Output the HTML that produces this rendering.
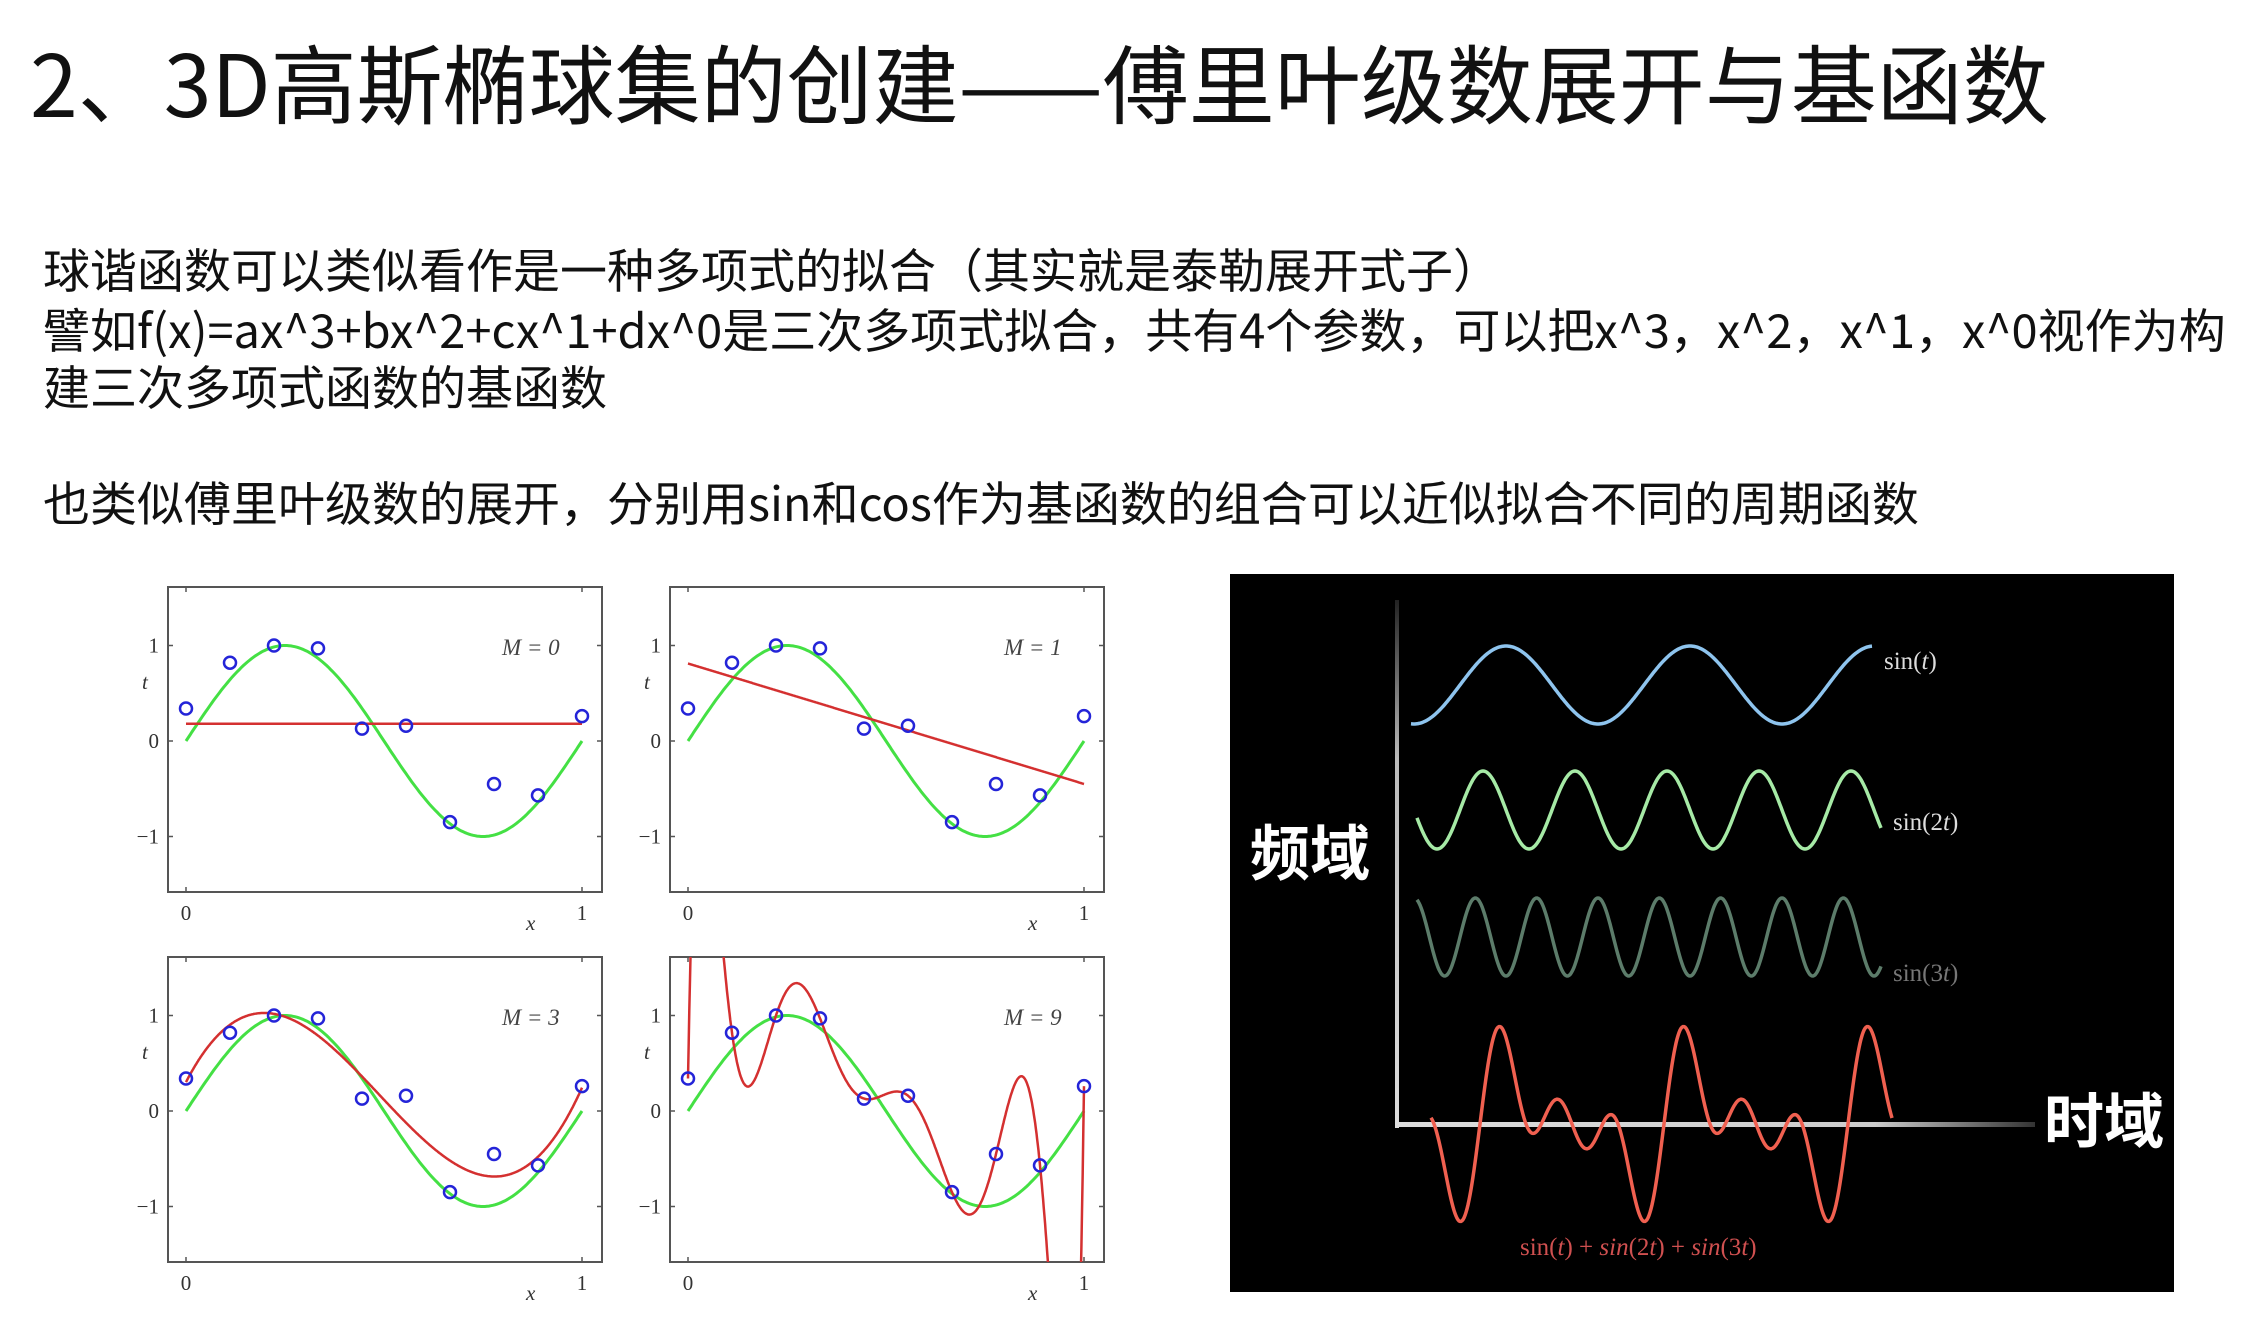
<!DOCTYPE html>
<html><head><meta charset="utf-8">
<style>
html,body{margin:0;padding:0;background:#fff;}
body{width:2246px;height:1329px;position:relative;overflow:hidden;font-family:"Liberation Sans","Noto Sans CJK SC",sans-serif;color:#111;}
.t{position:absolute;white-space:nowrap;left:43px;font-size:47px;line-height:60px;font-family:"Noto Sans CJK SC","Liberation Sans",sans-serif;}
svg{position:absolute;left:0;top:0;}
</style></head><body>
<div style="position:absolute;left:30px;top:30px;font-size:86px;line-height:100px;white-space:nowrap;font-family:'Noto Sans CJK SC',sans-serif;">2、3D高斯椭球集的创建——傅里叶级数展开与基函数</div>
<div class="t" style="top:238px">球谐函数可以类似看作是一种多项式的拟合（其实就是泰勒展开式子）</div>
<div class="t" style="top:298px">譬如f(x)=ax^3+bx^2+cx^1+dx^0是三次多项式拟合，共有4个参数，可以把x^3，x^2，x^1，x^0视作为构</div>
<div class="t" style="top:355px">建三次多项式函数的基函数</div>
<div class="t" style="top:471px">也类似傅里叶级数的展开，分别用sin和cos作为基函数的组合可以近似拟合不同的周期函数</div>

<svg id="s" width="2246" height="1329"></svg>

<script>
// ---- polynomial fit data ----
const dataX = [0, 1/9, 2/9, 3/9, 4/9, 5/9, 6/9, 7/9, 8/9, 1];
const dataY = [0.34, 0.82, 1.0, 0.97, 0.13, 0.16, -0.85, -0.45, -0.57, 0.26];
const orders = [0, 1, 3, 9];
const yTicks = [1, 0, -1];
const xTicks = [0, 1];
// ---- wave data ----
const waveNames = ["sin(t)", "sin(2t)", "sin(3t)"];
const waveFreqs = [1, 2, 3];
const sumFreqs = [1, 2, 3];

const NS = "http://www.w3.org/2000/svg";
const svg = document.getElementById('s');
function mk(tag, attrs, parent){const e=document.createElementNS(NS,tag);for(const k in attrs)e.setAttribute(k,attrs[k]);(parent||svg).appendChild(e);return e;}

function solve(A,b){const n=b.length;A=A.map(r=>r.slice());b=b.slice();
 for(let i=0;i<n;i++){let p=i;for(let j=i+1;j<n;j++)if(Math.abs(A[j][i])>Math.abs(A[p][i]))p=j;
  [A[i],A[p]]=[A[p],A[i]];[b[i],b[p]]=[b[p],b[i]];
  for(let j=i+1;j<n;j++){const f=A[j][i]/A[i][i];for(let k=i;k<n;k++)A[j][k]-=f*A[i][k];b[j]-=f*b[i];}}
 const x=new Array(n).fill(0);for(let i=n-1;i>=0;i--){let s=b[i];for(let k=i+1;k<n;k++)s-=A[i][k]*x[k];x[i]=s/A[i][i];}return x;}
function fitPoly(M){const n=M+1;const A=[],b=[];
 for(let i=0;i<n;i++){A.push([]);for(let j=0;j<n;j++){let s=0;for(let k=0;k<dataX.length;k++)s+=Math.pow(dataX[k],i+j);A[i].push(s);}
  let s=0;for(let k=0;k<dataX.length;k++)s+=dataY[k]*Math.pow(dataX[k],i);b.push(s);}
 return solve(A,b);}
function lagrange(x){let s=0;for(let i=0;i<dataX.length;i++){let l=1;for(let j=0;j<dataX.length;j++)if(j!==i)l*=(x-dataX[j])/(dataX[i]-dataX[j]);s+=dataY[i]*l;}return s;}

const panels=[{bx:168,by:587},{bx:670,by:587},{bx:168,by:957},{bx:670,by:957}];
const BW=434,BH=305;
panels.forEach((p,idx)=>{
 const M=orders[idx];
 const g=mk('g',{});
 
 
 const sx=x=>p.bx+18+x*396;
 const sy=y=>p.by+154-y*95.5;
 const cid='clip'+idx;
 const cp=mk('clipPath',{id:cid},g);mk('rect',{x:p.bx,y:p.by,width:BW,height:BH},cp);
 const box=mk('rect',{x:p.bx,y:p.by,width:BW,height:BH,fill:'none',stroke:'#555','stroke-width':2},g);
 
 
 yTicks.forEach(v=>{
  mk('line',{x1:p.bx,x2:p.bx+5,y1:sy(v),y2:sy(v),stroke:'#555','stroke-width':1.5},g);
  mk('line',{x1:p.bx+BW-5,x2:p.bx+BW,y1:sy(v),y2:sy(v),stroke:'#555','stroke-width':1.5},g);
  const t=mk('text',{x:p.bx-9,y:sy(v)+7,'text-anchor':'end','font-size':21,fill:'#333','font-family':'Liberation Serif, serif'},g);
  t.textContent=v<0?'\u22121':String(v);
  
  
 });
 xTicks.forEach(v=>{
  mk('line',{x1:sx(v),x2:sx(v),y1:p.by+BH-5,y2:p.by+BH,stroke:'#555','stroke-width':1.5},g);
  mk('line',{x1:sx(v),x2:sx(v),y1:p.by,y2:p.by+5,stroke:'#555','stroke-width':1.5},g);
  const t=mk('text',{x:sx(v),y:p.by+BH+28,'text-anchor':'middle','font-size':21,fill:'#333','font-family':'Liberation Serif, serif'},g);
  t.textContent=String(v);
  
  
 });
 const tl=mk('text',{x:p.bx-26,y:p.by+102,'font-size':21,'font-style':'italic',fill:'#333','font-family':'Liberation Serif, serif'},g);
 tl.textContent='t';
 
 
 const xl=mk('text',{x:p.bx+358,y:p.by+BH+38,'font-size':21,'font-style':'italic',fill:'#333','font-family':'Liberation Serif, serif'},g);
 xl.textContent='x';
 
 
 const ml=mk('text',{x:p.bx+334,y:p.by+68,'font-size':23,'font-style':'italic',fill:'#444','font-family':'Liberation Serif, serif'},g);
 ml.textContent='M = '+M;
 
 
 let d='';for(let i=0;i<=200;i++){const x=i/200;d+=(i?'L':'M')+sx(x).toFixed(1)+','+sy(Math.sin(2*Math.PI*x)).toFixed(1);}
 const gc=mk('path',{d:d,fill:'none',stroke:'#44e044','stroke-width':3},g);
 
 
 let f;
 if(M>=9){f=lagrange;}else{const c=fitPoly(M);f=x=>c.reduce((s,ci,i)=>s+ci*Math.pow(x,i),0);}
 d='';for(let i=0;i<=600;i++){const x=i/600;let y=f(x);y=Math.max(-5,Math.min(5,y));d+=(i?'L':'M')+sx(x).toFixed(1)+','+sy(y).toFixed(1);}
 const rc=mk('path',{d:d,fill:'none',stroke:'#d43030','stroke-width':2.5,'clip-path':'url(#'+cid+')'},g);
 
 
 dataX.forEach((x,i)=>{
  const c=mk('circle',{cx:sx(x),cy:sy(dataY[i]),r:6,fill:'none',stroke:'#2424d8','stroke-width':2.5},g);
  
  
 });
});

// ---- right black panel ----
const bg=mk('rect',{x:1230,y:574,width:944,height:718,fill:'#000'});


const defs=mk('defs',{});
const lgV=mk('linearGradient',{id:'gv',x1:0,y1:1,x2:0,y2:0},defs);
mk('stop',{offset:0,'stop-color':'#ddd'},lgV);mk('stop',{offset:0.7,'stop-color':'#bbb'},lgV);mk('stop',{offset:1,'stop-color':'#222'},lgV);
const lgH=mk('linearGradient',{id:'gh',x1:0,y1:0,x2:1,y2:0},defs);
mk('stop',{offset:0,'stop-color':'#ddd'},lgH);mk('stop',{offset:0.75,'stop-color':'#ccc'},lgH);mk('stop',{offset:1,'stop-color':'#333'},lgH);
const va=mk('rect',{x:1395,y:600,width:4,height:528,fill:'url(#gv)'});


const ha=mk('rect',{x:1395,y:1122,width:640,height:5,fill:'url(#gh)'});



const T0=1460,PER=184,AMP=39;
const waveCenters=[685,810,937];
const waveColors=['#8ec4ee','#a6eaa6','#5c7c6a'];
const waveX=[[1411,1872],[1417,1881],[1417,1881]];
const labelColors=['#ddd','#ddd','#777'];
waveFreqs.forEach((k,w)=>{
 let d='';const [a,b]=waveX[w];
 for(let x=a,i=0;x<=b;x+=1,i++){const t=(x-T0)/PER*2*Math.PI;d+=(i?'L':'M')+x+','+(waveCenters[w]-AMP*Math.sin(k*t)).toFixed(1);}
 const p=mk('path',{d:d,fill:'none',stroke:waveColors[w],'stroke-width':3.5});
 
 
 const l=mk('text',{x:b+12,y:waveCenters[w]+(w===0?-16:w===1?20:44),'font-size':25,fill:labelColors[w],'font-family':'Liberation Serif, serif'});
 l.innerHTML=waveNames[w].replace('t)','<tspan font-style="italic">t</tspan>)');
 
 
});
{
 let d='';const T1=1480,C=1124;
 for(let x=1431,i=0;x<=1892;x++,i++){const t=(x-T1)/PER*2*Math.PI;let s=0;sumFreqs.forEach(k=>s+=Math.sin(k*t));d+=(i?'L':'M')+x+','+(C-AMP*s).toFixed(1);}
 const p=mk('path',{d:d,fill:'none',stroke:'#f06050','stroke-width':3.5});
 
 
 const l=mk('text',{x:1520,y:1255,'font-size':25,fill:'#d05050','font-family':'Liberation Serif, serif'});
 l.innerHTML='sin(<tspan font-style="italic">t</tspan>) + <tspan font-style="italic">sin</tspan>(2<tspan font-style="italic">t</tspan>) + <tspan font-style="italic">sin</tspan>(3<tspan font-style="italic">t</tspan>)';
 
 
}
const fl=mk('text',{x:1250,y:875,'font-size':60,'font-weight':'bold',fill:'#fff','font-family':'Noto Sans CJK SC, sans-serif'});
fl.textContent='频域';


const tlb=mk('text',{x:2044,y:1143,'font-size':60,'font-weight':'bold',fill:'#fff','font-family':'Noto Sans CJK SC, sans-serif'});
tlb.textContent='时域';


</script>
</body></html>
